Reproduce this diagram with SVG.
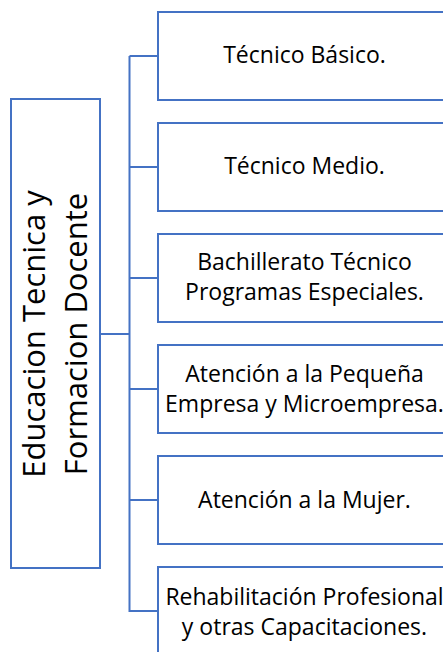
<svg xmlns="http://www.w3.org/2000/svg" width="443" height="652" viewBox="0 0 443 652">
<style>
.box{fill:#fff;stroke:#4472C4;stroke-width:2}
.con{fill:none;stroke:#4472C4;stroke-width:2}
.t{font-family:"Open Sans","Noto Sans",sans-serif;font-size:23px;fill:#000;text-anchor:middle}
.big{font-family:"Open Sans","Noto Sans",sans-serif;font-size:31px;fill:#000;text-anchor:middle}
</style>
<rect width="443" height="652" fill="#fff"/>
<g id="connectors">
<path class="con" d="M100,334H129.5M129.5,56V612M129.5,56H158M129.5,167H158M129.5,278H158M129.5,389H158M129.5,500H158M129.5,611H158"/>
</g>
<g id="root">
<rect class="box" x="11" y="99" width="89" height="469"/>
<text class="big" transform="translate(45,334) rotate(-90)">Educacion Tecnica y</text>
<text class="big" transform="translate(87,334) rotate(-90)">Formacion Docente</text>
</g>
<g id="n1">
<rect class="box" x="158" y="12" width="292" height="88"/>
<text class="t" x="304.5" y="63">Técnico Básico.</text>
</g>
<g id="n2">
<rect class="box" x="158" y="123" width="292" height="88"/>
<text class="t" x="304.5" y="174">Técnico Medio.</text>
</g>
<g id="n3">
<rect class="box" x="158" y="234" width="292" height="88"/>
<text class="t" x="304.5" y="270">Bachillerato Técnico</text>
<text class="t" x="304.5" y="300">Programas Especiales.</text>
</g>
<g id="n4">
<rect class="box" x="158" y="345" width="292" height="88"/>
<text class="t" x="304.5" y="382">Atención a la Pequeña</text>
<text class="t" x="304.5" y="412">Empresa y Microempresa.</text>
</g>
<g id="n5">
<rect class="box" x="158" y="456" width="292" height="88"/>
<text class="t" x="304.5" y="508">Atención a la Mujer.</text>
</g>
<g id="n6">
<rect class="box" x="158" y="567" width="292" height="88"/>
<text class="t" x="304.5" y="605">Rehabilitación Profesional</text>
<text class="t" x="304.5" y="635">y otras Capacitaciones.</text>
</g>
</svg>
